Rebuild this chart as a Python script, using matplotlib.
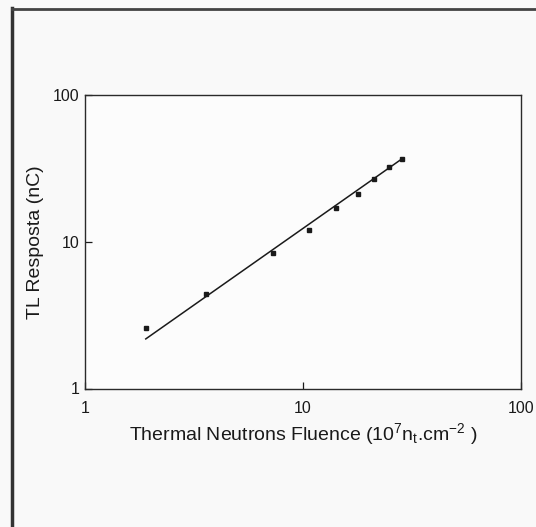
import numpy as np
import matplotlib.pyplot as plt
from matplotlib.lines import Line2D

plt.rcParams['font.family'] = ['Liberation Sans', 'DejaVu Sans']
plt.rcParams['mathtext.fontset'] = 'custom'
plt.rcParams['mathtext.rm'] = 'Liberation Sans'
plt.rcParams['mathtext.it'] = 'Liberation Sans'
plt.rcParams['mathtext.default'] = 'regular'

# measured points
fluence = [1.90, 3.59, 7.26, 10.6, 14.2, 17.8, 21.2, 24.9, 28.4]
tl_resp = [2.60, 4.40, 8.45, 12.1, 17.0, 21.3, 26.8, 32.4, 36.7]
# fitted line (end points)
fit_x = [1.90, 28.4]
fit_y = [2.18, 36.9]

xticks = [1, 10, 100]
yticks = [1, 10, 100]

fig = plt.figure(figsize=(5.36, 5.27), dpi=100, facecolor='#f9f9f9')
ax = fig.add_axes([85 / 536, 1 - 388.5 / 527, 436 / 536, 293 / 527])
ax.set_facecolor('#fcfcfc')

ax.plot(fit_x, fit_y, color='#1a1a1a', linewidth=1.1)
ax.plot(fluence, tl_resp, 's', color='#1a1a1a', ms=2.5, linestyle='none')

ax.set_xscale('log')
ax.set_yscale('log')
ax.set_xlim(1, 100)
ax.set_ylim(1, 100)
ax.set_xticks(xticks)
ax.set_xticklabels([str(t) for t in xticks])
ax.set_yticks(yticks)
ax.set_yticklabels([str(t) for t in yticks])
ax.minorticks_off()
ax.tick_params(direction='in', length=5, width=0.9, labelsize=11.5,
               colors='#1a1a1a')
ax.tick_params(axis='x', pad=9)
ax.tick_params(axis='y', pad=4)
for s in ax.spines.values():
    s.set_linewidth(1.0)
    s.set_color('#2a2a2a')

ax.set_xlabel(r'Thermal Neutrons Fluence (10$^{7}$n$_{t}$.cm$^{-2}$ )',
              fontsize=14, color='#1a1a1a', labelpad=4)
ax.set_ylabel('TL Resposta (nC)', fontsize=14, color='#1a1a1a', labelpad=6)

# page border of the scan
fig.add_artist(Line2D([11.5 / 536, 11.5 / 536], [0, 1 - 8 / 527],
                      transform=fig.transFigure, color='#333333', linewidth=2.5))
fig.add_artist(Line2D([11.5 / 536, 1], [1 - 9 / 527, 1 - 9 / 527],
                      transform=fig.transFigure, color='#444444', linewidth=2))

fig.savefig('out.png', dpi=100, facecolor=fig.get_facecolor())
